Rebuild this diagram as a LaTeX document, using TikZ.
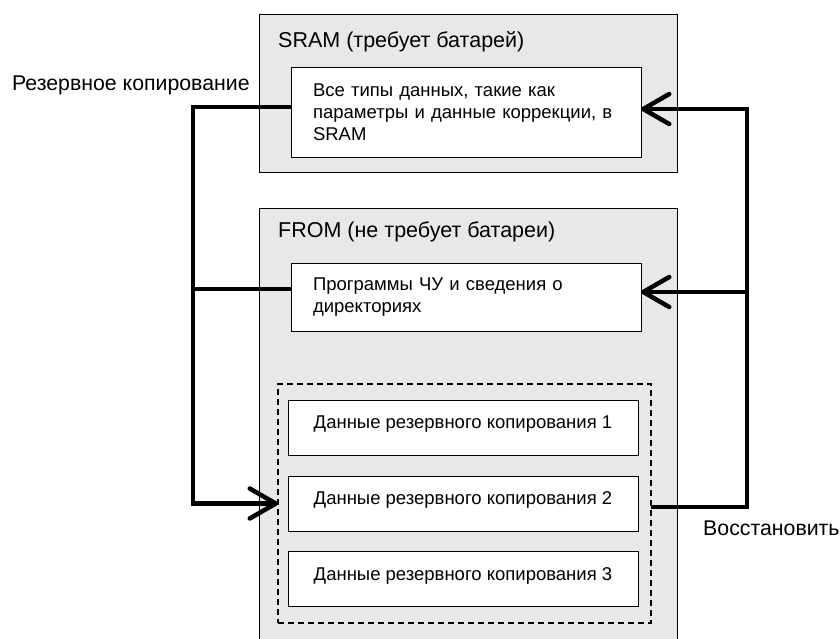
\documentclass[tikz,border=0pt]{standalone}
\usepackage{fontspec}
\setmainfont{Liberation Sans}
\usetikzlibrary{arrows.meta}
\definecolor{boxgray}{HTML}{E8E8E8}
\tikzset{
  outerbox/.style={draw=black, fill=boxgray, line width=1pt},
  innerbox/.style={draw=black, fill=white, line width=1pt, outer sep=0pt, inner ysep=0pt,
     font=\fontsize{18.5}{22}\selectfont},
  titletext/.style={anchor=west, inner sep=0pt, font=\fontsize{21.5}{25}\selectfont},
  labeltext/.style={anchor=west, inner sep=0pt, font=\fontsize{21.3}{25}\selectfont},
  dashbox/.style={draw=black, line width=1.2pt, dash pattern=on 6pt off 4pt, outer sep=0pt, inner sep=0pt},
  conn/.style={line width=4.5pt},
  connarrow/.style={line width=4.5pt, -{Straight Barb[length=26pt,width=30pt,round]}},
}
\begin{document}
\begin{tikzpicture}[x=1pt,y=-1pt]
\useasboundingbox (0,0) rectangle (840,638);
% outer boxes
\path[outerbox] (259,14) rectangle (677,172);
\path[outerbox] (259,208) rectangle (677,645);
\node[titletext] (sramtitle) at (278,42) {SRAM (требует батарей)};
\node[titletext] (fromtitle) at (278,232) {FROM (не требует батареи)};
% inner boxes
\node[innerbox, minimum width=350pt, minimum height=90pt, text width=306pt, inner xsep=22pt, align=left]
  (sraminner) at (466,112) {Все типы данных, такие как\\параметры и данные коррекции, в\\SRAM};
\node[innerbox, minimum width=350pt, minimum height=68pt, text width=306pt, inner xsep=22pt, align=left]
  (fromprog) at (466,297) {Программы ЧУ и сведения о\\директориях};
\node[dashbox, minimum width=373pt, minimum height=239pt] (dash) at (464.5,503.5) {};
\tikzset{bktext/.style={innerbox, minimum width=350pt, minimum height=55pt, align=center, text depth=10pt}}
\node[bktext] (bk1) at (463,427.5) {Данные резервного копирования 1};
\node[bktext] (bk2) at (463,503.5) {Данные резервного копирования 2};
\node[bktext] (bk3) at (463,579) {Данные резервного копирования 3};
% labels
\node[labeltext] (lblbackup) at (12,85) {Резервное копирование};
\node[labeltext] (lblrestore) at (703,528) {Восстановить};
% connectors
\coordinate (lt) at (193,107);
\coordinate (lm) at (193,289);
\coordinate (rt) at (747,109);
\coordinate (rm) at (747,292);
\coordinate (rb) at (747,507);
\draw[connarrow] (lt -| sraminner.west) -- (lt) |- (dash.west);
\draw[conn] (lm -| fromprog.west) -- (lm);
\draw[connarrow] (rb -| dash.east) -- (rb) -- (rt) -- (rt -| sraminner.east);
\draw[connarrow] (rm) -- (rm -| fromprog.east);
\end{tikzpicture}
\end{document}
